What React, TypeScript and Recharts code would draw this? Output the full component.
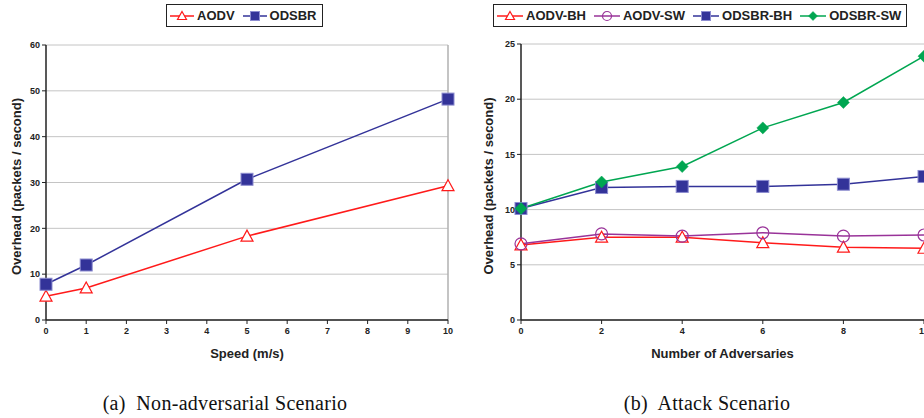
import { LineChart, Line, XAxis, YAxis, CartesianGrid, Legend, ReferenceLine } from 'recharts';

// (a) non-adversarial scenario
const speeds = [0, 1, 5, 10];
const aodvOverhead = [5.2, 7.0, 18.3, 29.3];
const odsbrOverhead = [7.8, 12.0, 30.7, 48.2];
const speedTicks = [0, 1, 2, 3, 4, 5, 6, 7, 8, 9, 10];
const leftYTicks = [0, 10, 20, 30, 40, 50, 60];

// (b) attack scenario
const adversaries = [0, 2, 4, 6, 8, 10];
const aodvBH = [6.8, 7.5, 7.5, 7.0, 6.6, 6.5];
const aodvSW = [6.9, 7.8, 7.6, 7.9, 7.6, 7.7];
const odsbrBH = [10.1, 12.0, 12.1, 12.1, 12.3, 13.0];
const odsbrSW = [10.1, 12.5, 13.9, 17.4, 19.7, 23.9];
const advTicks = [0, 2, 4, 6, 8, 10];
const rightYTicks = [0, 5, 10, 15, 20, 25];

const SANS = '"Liberation Sans", Arial, Helvetica, sans-serif';
const SERIF = '"Liberation Serif", "Times New Roman", Times, serif';

const RED = '#ff1a1a';
const NAVY = '#333399';
const PURPLE = '#993399';
const GREEN = '#00a651';

type Shape = 'triangle' | 'square' | 'circle' | 'diamond';
type Series = { key: string; color: string; shape: Shape };

const leftSeries: Series[] = [
  { key: 'AODV', color: RED, shape: 'triangle' },
  { key: 'ODSBR', color: NAVY, shape: 'square' },
];
const rightSeries: Series[] = [
  { key: 'AODV-BH', color: RED, shape: 'triangle' },
  { key: 'AODV-SW', color: PURPLE, shape: 'circle' },
  { key: 'ODSBR-BH', color: NAVY, shape: 'square' },
  { key: 'ODSBR-SW', color: GREEN, shape: 'diamond' },
];

const leftData = speeds.map((s, i) => ({ speed: s, AODV: aodvOverhead[i], ODSBR: odsbrOverhead[i] }));
const rightData = adversaries.map((n, i) => ({
  n,
  'AODV-BH': aodvBH[i],
  'AODV-SW': aodvSW[i],
  'ODSBR-BH': odsbrBH[i],
  'ODSBR-SW': odsbrSW[i],
}));

function Marker({ shape, x, y, color, s = 6 }: { shape: Shape; x: number; y: number; color: string; s?: number }) {
  switch (shape) {
    case 'triangle':
      return <polygon points={`${x},${y - s} ${x + s},${y + s - 1} ${x - s},${y + s - 1}`} fill="#fff" stroke={color} strokeWidth={1.2} />;
    case 'circle':
      return <circle cx={x} cy={y} r={s} fill="none" stroke={color} strokeWidth={1.2} />;
    case 'square':
      return <rect x={x - s} y={y - s} width={2 * s} height={2 * s} fill={color} stroke="#8c8cd0" strokeWidth={1} />;
    default:
      return <polygon points={`${x},${y - s} ${x + s},${y} ${x},${y + s} ${x - s},${y}`} fill={color} stroke={color} strokeWidth={0.5} />;
  }
}

const dotFor = (sr: Series) => (p: any) => {
  if (p.cx == null || p.cy == null) return <g key={p.index} />;
  return (
    <g key={p.index}>
      <Marker shape={sr.shape} x={p.cx} y={p.cy} color={sr.color} />
    </g>
  );
};

function LegendBox({ items, iconW }: { items: Series[]; iconW: number }) {
  return (
    <div
      style={{
        display: 'flex',
        alignItems: 'center',
        border: '1px solid #222',
        height: 21,
        padding: '0 5px 0 3px',
        background: '#fff',
        fontFamily: SANS,
        fontWeight: 'bold',
        fontSize: 13,
        color: '#222',
        whiteSpace: 'nowrap',
      }}
    >
      {items.map((it, i) => (
        <span key={it.key} style={{ display: 'flex', alignItems: 'center', marginLeft: i ? 8 : 0 }}>
          <svg width={iconW} height={12} style={{ marginRight: 3 }}>
            <line x1={0} y1={6} x2={iconW} y2={6} stroke={it.color} strokeWidth={1.5} />
            <Marker shape={it.shape} x={iconW / 2} y={6} color={it.color} s={4.5} />
          </svg>
          {it.key}
        </span>
      ))}
    </div>
  );
}

const tickStyle = { fontSize: 9, fontWeight: 'bold', fill: '#222', fontFamily: SANS };
const axisLabelStyle = { fontSize: 13, fontWeight: 'bold', fill: '#222', fontFamily: SANS };

export default function App() {
  return (
    <div style={{ position: 'absolute', left: 0, top: 0, width: 924, height: 418, overflow: 'hidden', background: '#fff' }}>
      <div style={{ position: 'absolute', left: 0, top: 0 }}>
        <LineChart width={470} height={370} data={leftData} margin={{ top: 45, right: 22, left: 0, bottom: 0 }}>
          <CartesianGrid vertical={false} stroke="#c4c4c4" />
          <XAxis
            dataKey="speed"
            type="number"
            domain={[0, 10]}
            ticks={speedTicks}
            height={50}
            tick={tickStyle}
            tickSize={4}
            tickMargin={4}
            axisLine={{ stroke: '#222', strokeWidth: 1.5 }}
            tickLine={{ stroke: '#222' }}
            label={{ value: 'Speed (m/s)', position: 'center', dy: 8, style: axisLabelStyle }}
          />
          <YAxis
            type="number"
            domain={[0, 60]}
            ticks={leftYTicks}
            width={46}
            tick={tickStyle}
            tickSize={4}
            axisLine={{ stroke: '#222', strokeWidth: 1.5 }}
            tickLine={{ stroke: '#222' }}
            label={{ value: 'Overhead (packets / second)', angle: -90, position: 'center', dx: -7, dy: 4, style: axisLabelStyle }}
          />
          <ReferenceLine x={10} stroke="#b0b0b0" strokeWidth={1.5} />
          <Legend
            layout="horizontal"
            verticalAlign="middle"
            align="center"
            wrapperStyle={{ top: 4, left: 166, width: 'auto' }}
            content={() => <LegendBox items={leftSeries} iconW={24} />}
          />
          {leftSeries.map((sr) => (
            <Line
              key={sr.key}
              dataKey={sr.key}
              stroke={sr.color}
              strokeWidth={1.5}
              dot={dotFor(sr)}
              activeDot={false}
              isAnimationActive={false}
            />
          ))}
        </LineChart>
      </div>

      <div style={{ position: 'absolute', left: 470, top: 0 }}>
        <LineChart width={460} height={370} data={rightData} margin={{ top: 44, right: 6, left: 0, bottom: 0 }}>
          <CartesianGrid vertical={false} stroke="#c4c4c4" />
          <XAxis
            dataKey="n"
            type="number"
            domain={[0, 10]}
            ticks={advTicks}
            height={50}
            tick={tickStyle}
            tickSize={4}
            tickMargin={4}
            axisLine={{ stroke: '#222', strokeWidth: 1.5 }}
            tickLine={{ stroke: '#222' }}
            label={{ value: 'Number of Adversaries', position: 'center', dy: 8, style: axisLabelStyle }}
          />
          <YAxis
            type="number"
            domain={[0, 25]}
            ticks={rightYTicks}
            width={51}
            tick={tickStyle}
            tickSize={4}
            axisLine={{ stroke: '#222', strokeWidth: 1.5 }}
            tickLine={{ stroke: '#222' }}
            label={{ value: 'Overhead (packets / second)', angle: -90, position: 'center', dx: -7, dy: 4, style: axisLabelStyle }}
          />
          <Legend
            layout="horizontal"
            verticalAlign="middle"
            align="center"
            wrapperStyle={{ top: 4, left: 23, width: 'auto' }}
            content={() => <LegendBox items={rightSeries} iconW={26} />}
          />
          {rightSeries.map((sr) => (
            <Line
              key={sr.key}
              dataKey={sr.key}
              stroke={sr.color}
              strokeWidth={1.5}
              dot={dotFor(sr)}
              activeDot={false}
              isAnimationActive={false}
            />
          ))}
        </LineChart>
      </div>

      <div
        style={{
          position: 'absolute',
          left: 0,
          width: 450,
          top: 393,
          textAlign: 'center',
          fontFamily: SERIF,
          fontSize: 20,
          lineHeight: '20px',
          letterSpacing: 0.3,
          whiteSpace: 'pre',
          color: '#111',
        }}
      >
        {'(a)  Non-adversarial Scenario'}
      </div>
      <div
        style={{
          position: 'absolute',
          left: 482,
          width: 450,
          top: 393,
          textAlign: 'center',
          fontFamily: SERIF,
          fontSize: 20,
          lineHeight: '20px',
          letterSpacing: 0.3,
          whiteSpace: 'pre',
          color: '#111',
        }}
      >
        {'(b)  Attack Scenario'}
      </div>
    </div>
  );
}
